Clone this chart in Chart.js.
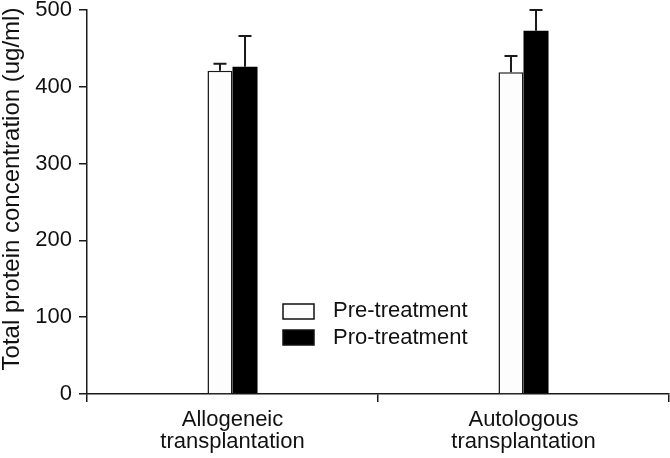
<!DOCTYPE html>
<html>
<head>
<meta charset="utf-8">
<script src="https://cdn.jsdelivr.net/npm/chart.js@4.4.0/dist/chart.umd.min.js"></script>
<style>
html,body{margin:0;padding:0;background:#fff;}
#wrap{width:670px;height:458px;position:relative;}
</style>
</head>
<body>
<div id="wrap"><canvas id="c" width="670" height="458"></canvas></div>
<script>
const categories = [['Allogeneic','transplantation'],['Autologous','transplantation']];
const seriesNames = ['Pre-treatment','Pro-treatment'];
const preValues = [421, 419];
const proValues = [426, 473];
const preErrors = [9, 21];
const proErrors = [40, 27];
const yTicks = [0,100,200,300,400,500];
const yTitle = 'Total protein concentration (ug/ml)';
const FONT = '"Liberation Sans", Arial, sans-serif';

const errorBarPlugin = {
  id:'errorBars',
  afterDatasetsDraw(chart){
    const ctx = chart.ctx, y = chart.scales.y;
    chart.data.datasets.forEach((ds,di)=>{
      const meta = chart.getDatasetMeta(di);
      meta.data.forEach((bar,i)=>{
        const v = ds.data[i], e = ds.errors[i];
        const x = bar.x, yTop = y.getPixelForValue(v+e), yv = y.getPixelForValue(v);
        ctx.save();
        ctx.strokeStyle = '#1a1a1a';
        ctx.lineWidth = 2;
        ctx.beginPath();
        ctx.moveTo(x, yv); ctx.lineTo(x, yTop);
        ctx.moveTo(x-6.5, yTop); ctx.lineTo(x+6.5, yTop);
        ctx.stroke();
        ctx.restore();
      });
    });
  }
};

const legendPlugin = {
  id:'customLegend',
  afterDraw(chart){
    const ctx = chart.ctx;
    const x0 = 283, y0 = 304, w = 31, h = 15, gap = 26;
    chart.data.datasets.forEach((ds,i)=>{
      const yy = y0 + i*gap;
      ctx.save();
      ctx.fillStyle = ds.backgroundColor;
      ctx.fillRect(x0, yy, w, h);
      ctx.strokeStyle = '#111'; ctx.lineWidth = 1.5;
      ctx.strokeRect(x0, yy, w, h);
      ctx.fillStyle = '#111';
      ctx.font = '22px ' + FONT;
      ctx.textBaseline = 'middle';
      ctx.fillText(ds.label, 333, 311 + i*27);
      ctx.restore();
    });
  }
};

const titlePlugin = {
  id:'yTitle',
  afterDraw(chart){
    const ctx = chart.ctx;
    ctx.save();
    ctx.translate(12, 189);
    ctx.rotate(-Math.PI/2);
    ctx.fillStyle = '#111';
    ctx.font = '24px ' + FONT;
    ctx.textAlign = 'center';
    ctx.textBaseline = 'middle';
    ctx.fillText(yTitle, 0, 0);
    ctx.restore();
  }
};

new Chart(document.getElementById('c'), {
  type:'bar',
  data:{
    labels: categories,
    datasets:[
      {label: seriesNames[0], data: preValues, errors: preErrors, backgroundColor:'#fdfdfd', borderColor:'#1a1a1a', borderWidth:1.5, borderSkipped:'bottom'},
      {label: seriesNames[1], data: proValues, errors: proErrors, backgroundColor:'#000000', borderColor:'#000000', borderWidth:0}
    ]
  },
  options:{
    responsive:false,
    animation:false,
    devicePixelRatio:1,
    layout:{padding:{top:10,right:1,left:0,bottom:0}},
    plugins:{legend:{display:false}, tooltip:{enabled:false}},
    datasets:{bar:{categoryPercentage:0.172, barPercentage:1}},
    scales:{
      x:{
        grid:{display:true, offset:true, drawOnChartArea:false, drawTicks:true, tickLength:8, color:'#1a1a1a', lineWidth:1.5},
        border:{display:true, color:'#1a1a1a', width:1.5},
        ticks:{font:{family:FONT, size:22, lineHeight:1.0}, color:'#111', padding:7, maxRotation:0},
        afterFit(s){ s.height = 64; s.paddingLeft = 0; s.paddingRight = 0; }
      },
      y:{
        min:0, max:500,
        afterBuildTicks(s){ s.ticks = yTicks.map(v=>({value:v})); },
        grid:{display:true, drawOnChartArea:false, drawTicks:true, tickLength:8, color:'#1a1a1a', lineWidth:1.5},
        border:{display:true, color:'#1a1a1a', width:1.5},
        ticks:{font:{family:FONT, size:22}, color:'#111', padding:7},
        afterFit(s){ s.width = 87; s.paddingTop = 0; s.paddingBottom = 0; }
      }
    }
  },
  plugins:[errorBarPlugin, legendPlugin, titlePlugin]
});
</script>
</body>
</html>
